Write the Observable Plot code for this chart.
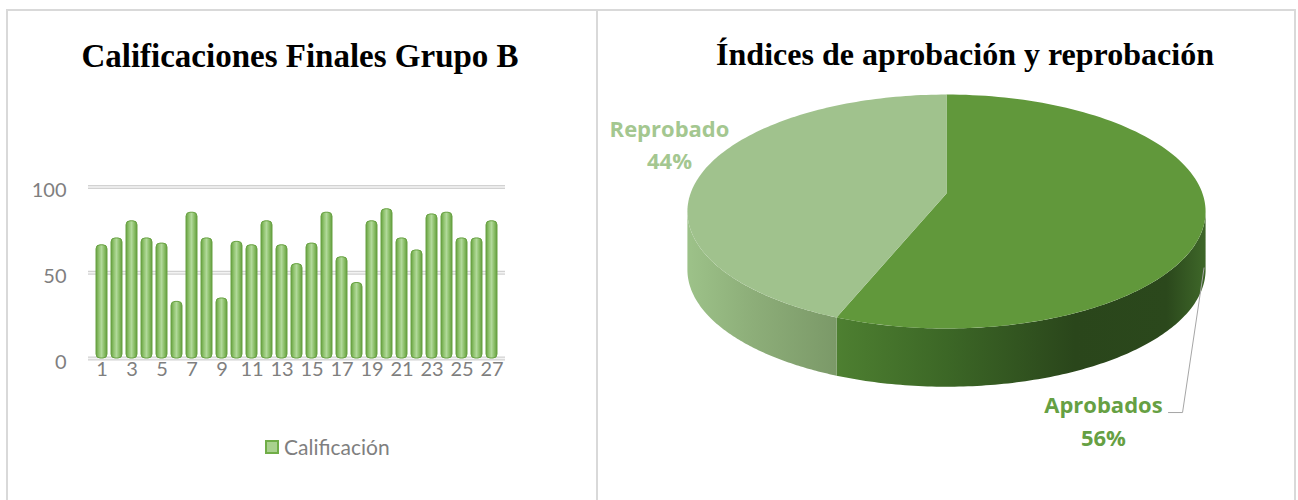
<!DOCTYPE html>
<html>
<head>
<meta charset="utf-8">
<script src="https://cdn.jsdelivr.net/npm/d3@7"></script>
<script src="https://cdn.jsdelivr.net/npm/@observablehq/plot@0.6"></script>
<style>
  body { margin: 0; background: #fff; }
  #wrap { position: relative; width: 1298px; height: 500px; overflow: hidden; background: #fff; }
  .panel { position: absolute; box-sizing: border-box; border: 2px solid #d9d9d9; border-bottom: none; }
  #leftPanel { left: 6px; top: 9px; width: 592px; height: 495px; }
  #rightPanel { left: 596px; top: 9px; width: 700px; height: 495px; }
  .title { position: absolute; font-family: "Liberation Serif", "Times New Roman", serif; font-weight: bold;
           color: #000; white-space: nowrap; line-height: 1; transform: translateX(-50%); }
  #leftTitle { left: 300px; top: 40px; font-size: 33px; }
  #rightTitle { left: 965px; top: 38px; font-size: 32px; }
  #leftChart { position: absolute; left: 7px; top: 100px; }
  #rightChart { position: absolute; left: 598px; top: 80px; }
  #legend { position: absolute; left: 265px; top: 434px; font-family: Lato, sans-serif; font-size: 21px;
            color: #7f7f7f; display: flex; align-items: center; gap: 5px; line-height: 26px; }
  #legend .sw { width: 10px; height: 10px; border: 2px solid #70ad47; background: #a9d18e; }
</style>
</head>
<body>
<div id="wrap">
  <div class="panel" id="leftPanel"></div>
  <div class="panel" id="rightPanel"></div>
  <div class="title" id="leftTitle">Calificaciones Finales Grupo B</div>
  <div class="title" id="rightTitle">Índices de aprobación y reprobación</div>
  <div id="leftChart"></div>
  <div id="rightChart"></div>
  <div id="legend"><span class="sw"></span><span id="legendText"></span></div>
</div>
<script>
// ---------- data ----------
const students = [1,2,3,4,5,6,7,8,9,10,11,12,13,14,15,16,17,18,19,20,21,22,23,24,25,26,27];
const grades   = [66,70,80,70,67,33,85,70,35,68,66,80,66,55,67,85,59,44,80,87,70,63,84,85,70,70,80];
const gradeTicks = [0, 50, 100];
const studentTickLabels = [1,3,5,7,9,11,13,15,17,19,21,23,25,27];
const seriesName = "Calificación";

const sliceNames  = ["Aprobados", "Reprobado"];
const sliceShares = [56, 44];

document.getElementById("legendText").textContent = seriesName;

// ---------- left: bar chart ----------
const barData = students.map((s, i) => ({student: s, grade: grades[i]}));
const left = Plot.plot({
  width: 590, height: 300,
  marginLeft: 81, marginRight: 92, marginTop: 80, marginBottom: 42,
  x: {type: "band", domain: students, range: [82.5, 495.5], padding: 0.3, axis: null},
  y: {domain: [0, 100], range: [258, 86.5], axis: null},
  style: {fontFamily: "Lato, sans-serif", fontSize: "20px", color: "#7f7f7f", background: "transparent", overflow: "visible"},
  marks: [
    Plot.ruleY(gradeTicks, {stroke: "#d2d2d2", strokeWidth: 4}),
    Plot.ruleY(gradeTicks, {stroke: "#f3f3f3", strokeWidth: 1.5}),
    Plot.barY(barData, {x: "student", y: "grade", fill: "url(#barGrad)", stroke: "#68a242", strokeWidth: 1, rx: 4}),
    Plot.axisY(gradeTicks, {tickSize: 0, tickPadding: 22, dy: 4, fontSize: 20, label: null}),
    Plot.axisX(studentTickLabels, {tickSize: 0, tickPadding: 3, fontSize: 20, label: null})
  ]
});
d3.select(left).insert("defs", ":first-child").html(`
  <linearGradient id="barGrad" x1="0" x2="1" y1="0" y2="0">
    <stop offset="0" stop-color="#67a040"/>
    <stop offset="0.28" stop-color="#94c673"/>
    <stop offset="0.5" stop-color="#b1d99a"/>
    <stop offset="0.72" stop-color="#8fc26d"/>
    <stop offset="1" stop-color="#649d3e"/>
  </linearGradient>`);
document.getElementById("leftChart").appendChild(left);

// ---------- right: 3D pie ----------
const K = 0.154;      // perspective
const DEPTH = 0.51;   // thickness in y units
const TAU = Math.PI * 2;
const total = d3.sum(sliceShares);
function proj(phi, drop = 0) {
  const u = Math.sin(phi), v = -Math.cos(phi), w = 1 - K * v;
  return {x: u / w, y: v / w + drop};
}
const N = 120;
function arc(a, b, drop, id) {
  return d3.range(N + 1).map(i => ({...proj(a + (b - a) * i / N, drop), id}));
}
let acc = 0;
const slices = sliceNames.map((name, i) => {
  const a = acc / total * TAU; acc += sliceShares[i];
  const b = acc / total * TAU;
  return {name, share: sliceShares[i], a, b};
});
const phi1 = Math.acos(-K), phi2 = TAU - Math.acos(-K);

const topFaces = slices.map(s => [{x: 0, y: 0, id: s.name}, ...arc(s.a, s.b, 0, s.name)]);
const sideFaces = slices.map(s => {
  const a = Math.max(s.a, phi1), b = Math.min(s.b, phi2);
  if (a >= b) return [];
  return [...arc(a, b, 0, s.name), ...arc(b, a, DEPTH, s.name)];
});
const shadow = arc(0, TAU, DEPTH + 0.12, "shadow").map(p => ({...p, x: p.x * 1.01}));
const rimLight = arc(phi1 + 0.05, phi2 - 0.05, 0.012, "rim");

const topColor  = {Aprobados: "#61983b", Reprobado: "#a0c28d"};
const sideFill  = {Aprobados: "url(#sideA)", Reprobado: "url(#sideR)"};
const textColor = {Aprobados: "#66a043", Reprobado: "#a4c790"};

// label anchors (pie units) and leader line
const labelPos = {Aprobados: {x: 0.613, y: 1.975}, Reprobado: {x: -1.082, y: -0.447}};
const labels = slices.map(s => ({...labelPos[s.name], name: s.name, text: `${s.name}\n${s.share}%`}));
const attach = proj(Math.PI * 105 / 180, DEPTH * 0.75);
const leader = [attach, {x: 0.922, y: 1.918}, {x: 0.867, y: 1.918}];

const right = Plot.plot({
  width: 696, height: 390,
  margin: 0,
  x: {domain: [-1, 1], range: [92, 604], axis: null},
  y: {domain: [-1, 1], range: [-1.2, 227.2], axis: null},
  style: {background: "transparent", overflow: "visible"},
  marks: [
    Plot.line(shadow, {x: "x", y: "y", fill: "#000", fillOpacity: 0.22, stroke: "none", curve: "linear-closed", ariaLabel: "shadow"}),
    ...slices.map((s, i) => Plot.line(sideFaces[i], {x: "x", y: "y", fill: sideFill[s.name], stroke: "none", curve: "linear-closed"})),
    ...slices.map((s, i) => Plot.line(topFaces[i], {x: "x", y: "y", fill: topColor[s.name], stroke: "none", curve: "linear-closed"})),
    Plot.line(rimLight, {x: "x", y: "y", stroke: "#ffffff", strokeOpacity: 0.45, strokeWidth: 3, ariaLabel: "rim"}),
    Plot.line(leader, {x: "x", y: "y", stroke: "#a6a6a6", strokeWidth: 1}),
    Plot.text(labels, {x: "x", y: "y", text: "text", fill: d => textColor[d.name], fontSize: 22, fontWeight: "bold",
      fontFamily: "'Open Sans', sans-serif", lineAnchor: "middle", lineHeight: 1.5, textAnchor: "middle"})
  ]
});
d3.select(right).insert("defs", ":first-child").html(`
  <linearGradient id="sideA" gradientUnits="userSpaceOnUse" x1="92" x2="604" y1="0" y2="0">
    <stop offset="0.28" stop-color="#4e8031"/>
    <stop offset="0.5" stop-color="#3c6726"/>
    <stop offset="0.75" stop-color="#2a461b"/>
    <stop offset="0.93" stop-color="#2b481c"/>
    <stop offset="1" stop-color="#3d6528"/>
  </linearGradient>
  <linearGradient id="sideR" gradientUnits="userSpaceOnUse" x1="92" x2="604" y1="0" y2="0">
    <stop offset="0" stop-color="#9cc188"/>
    <stop offset="0.12" stop-color="#8dae79"/>
    <stop offset="0.285" stop-color="#7b9968"/>
  </linearGradient>
  <filter id="softShadow" x="-20%" y="-50%" width="140%" height="200%"><feGaussianBlur stdDeviation="8"/></filter>
  <filter id="softRim"><feGaussianBlur stdDeviation="1.2"/></filter>`);
d3.select(right).select('g[aria-label="shadow"]').attr("filter", "url(#softShadow)");
d3.select(right).select('g[aria-label="rim"]').attr("filter", "url(#softRim)");
document.getElementById("rightChart").appendChild(right);
</script>
</body>
</html>
